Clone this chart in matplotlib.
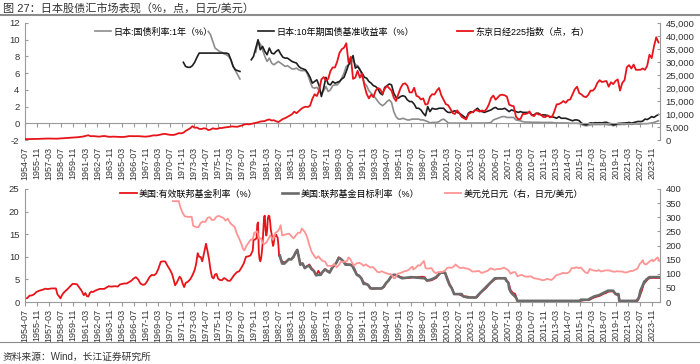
import numpy as np
import pandas as pd
import matplotlib
matplotlib.use("Agg")
import matplotlib.pyplot as plt
from matplotlib.lines import Line2D
from matplotlib.legend import Legend
from matplotlib.ticker import FuncFormatter

plt.rcParams['font.family'] = ['Liberation Sans', 'Noto Sans CJK SC', 'DejaVu Sans']
plt.rcParams['axes.unicode_minus'] = False

# monthly category axis
months = pd.period_range('1954-07', '2024-09', freq='M').strftime('%Y-%m').tolist()
tick_step = 16

# ---- Nikkei 225, quarterly (Jan/Apr/Jul/Oct) from 1954-07
nikkei_start = '1954-07'
nikkei = [
    340, 330,
    360, 370, 380, 420, 430, 480, 520, 540, 570, 560, 530, 480, 500, 560, 600, 650,
    700, 780, 850, 900, 950, 1050, 1150, 1250, 1400, 1600, 1820, 1450,
    1500, 1450, 1350, 1300, 1450, 1550, 1400, 1250, 1230, 1300, 1250, 1220,
    1180, 1150, 1200, 1350, 1500, 1480, 1450, 1460, 1480, 1420, 1380, 1300,
    1350, 1450, 1650, 1800, 1750, 1900, 2100, 2300, 2350, 2150, 2000, 1950,
    2000, 2300, 2650, 2550, 2800, 3500, 4000, 4500, 5300, 4700, 4800, 4300,
    4200, 4500, 4400, 3800, 4000, 4500, 4300, 4300, 4600, 4600, 4800, 4900,
    5000, 5200, 5200, 5100, 5100, 5400, 5600, 6000, 6100, 6000, 6200, 6400,
    6600, 6800, 7100, 7200, 7300, 7700, 7900, 7500, 7600, 7200, 6900, 7500,
    8100, 8400, 8900, 9400, 9900, 10900, 10300, 11100, 11900, 12500, 12800, 12700,
    13200, 15800, 17600, 16900, 19000, 23300, 24200, 23000, 23500, 26500, 27900, 27900,
    30200, 33500, 34900, 35500, 37200, 29800, 32000, 23500, 24000, 26600, 24000, 25500,
    21000, 17800, 16000, 17400, 16500, 19000, 20000, 19500, 17800, 19700, 20800, 19900,
    19000, 16300, 15000, 17600, 20000, 21500, 21800, 20900, 18300, 18300, 20100, 17000,
    16600, 15600, 16000, 13600, 13900, 16600, 17600, 17500, 19000, 20000, 17200, 15500,
    13800, 13400, 12000, 10400, 10000, 11400, 10300, 8900, 8400, 7900, 9900, 10500,
    10800, 11500, 11300, 10900, 11400, 11000, 11900, 13600, 16100, 17100, 15500, 16400,
    17300, 17400, 17200, 16700, 13600, 13200, 13000, 9000, 8000, 8100, 10000, 10000,
    10200, 11000, 9500, 9200, 10300, 9800, 9800, 8900, 8800, 9500, 8700, 8900,
    11100, 13700, 13800, 14300, 15000, 14300, 15400, 15600, 17600, 19500, 20500, 18000,
    17500, 16700, 16500, 17400, 19000, 19000, 20000, 22000, 23000, 22300, 22500, 22700,
    20500, 22200, 21500, 22700, 23300, 19000, 22000, 23000, 28000, 28800, 27500, 29000,
    27000, 27000, 27000, 27500, 27000, 28500, 32800, 31500, 36000, 39500, 37500,
]

# ---- Japan 10y JGB yield, quarterly; two segments
jgb10_a_start = '1972-01'
jgb10_a = [7.3, 6.8, 6.7, 6.7, 6.9, 7.3, 7.9, 8.4, 8.4, 8.4, 8.4, 8.4, 8.4, 8.4, 8.4, 8.4,
           8.4, 8.4, 8.4, 8.4, 8.3, 7.6, 6.8, 6.4, 6.3, 6.2]
jgb10_b_start = '1979-07'
jgb10_b = [
    7.6, 8.0,
    9.0, 10.0, 8.8, 9.2, 8.6, 8.2, 9.0, 8.4, 8.3, 8.6, 8.8, 8.3, 7.9, 7.8, 7.8, 7.6,
    7.4, 7.3, 7.2, 6.8, 6.6, 6.5, 6.4, 6.0, 5.5, 4.8, 5.0, 5.2, 4.5, 3.2, 4.2, 5.5,
    4.7, 4.6, 5.0, 4.8, 4.9, 5.0, 5.3, 5.5, 6.2, 7.0, 7.5, 8.1, 6.6, 6.8, 6.4, 6.0,
    5.5, 5.4, 5.0, 4.8, 4.5, 4.4, 4.1, 3.6, 3.4, 4.3, 4.5, 4.7, 4.6, 3.6, 3.1, 3.0,
    3.2, 3.3, 3.2, 2.8, 2.6, 2.6, 2.3, 1.8, 1.8, 1.6, 1.2, 0.9, 2.0, 1.4, 1.8, 1.7,
    1.7, 1.8, 1.8, 1.8, 1.5, 1.3, 1.3, 1.4, 1.5, 1.3, 1.2, 1.0, 0.8, 0.6, 1.2, 1.4,
    1.3, 1.6, 1.8, 1.5, 1.4, 1.3, 1.4, 1.5, 1.6, 1.8, 1.9, 1.7, 1.7, 1.7, 1.8, 1.6,
    1.4, 1.6, 1.5, 1.4, 1.3, 1.4, 1.3, 1.3, 1.3, 1.3, 1.0, 1.0, 1.2, 1.2, 1.0, 1.0,
    1.0, 0.9, 0.8, 0.8, 0.7, 0.6, 0.8, 0.6, 0.6, 0.6, 0.5, 0.4, 0.3, 0.4, 0.4, 0.3,
    0.0, -0.1, -0.2, -0.05, 0.05, 0.02, 0.07, 0.05, 0.07, 0.04, 0.1, 0.12,
    0.0, -0.05, -0.2, -0.15, -0.02, 0.0, 0.02, 0.03, 0.05, 0.1, 0.02, 0.08,
    0.15, 0.22, 0.2, 0.25, 0.5, 0.45, 0.6, 0.8, 0.7, 0.9, 1.05,
]

# ---- Japan 1y JGB yield, quarterly; two segments
jgb1_a_start = '1974-10'
jgb1_a = [11.0, 10.6, 9.8, 9.0, 8.8, 8.6, 8.5, 8.3, 8.2, 8.0, 7.6, 6.8, 6.3, 5.8, 5.3]
jgb1_b_start = '1980-01'
jgb1_b = [
    8.5, 9.8, 9.5, 8.8, 8.0, 7.4, 7.8, 7.2, 7.0, 7.2, 7.4, 7.2, 7.0, 6.8, 6.9, 6.7,
    6.5, 6.5, 6.6, 6.4, 6.3, 6.3, 6.3, 5.8, 5.0, 4.3, 4.2, 4.3, 3.9, 3.6, 3.9, 4.4,
    3.8, 4.0, 4.5, 4.6, 4.6, 4.9, 5.4, 6.0, 6.8, 7.0, 7.2, 7.6, 7.0, 6.9, 6.5, 5.6,
    4.8, 4.5, 3.9, 3.6, 3.3, 3.0, 2.6, 2.3, 2.1, 2.3, 2.6, 2.8, 2.5, 1.4, 0.8, 0.5,
    0.5, 0.6, 0.5, 0.4, 0.4, 0.5, 0.5, 0.5, 0.5, 0.4, 0.4, 0.3, 0.2, 0.05, 0.1, 0.1,
    0.1, 0.2, 0.4, 0.5, 0.3, 0.05, 0.02, 0.02, 0.03, 0.02, 0.02, 0.02, 0.03, 0.02, 0.02, 0.02,
    0.02, 0.03, 0.03, 0.02, 0.02, 0.03, 0.04, 0.05, 0.1, 0.4, 0.5, 0.6, 0.7, 0.8, 0.8, 0.7,
    0.7, 0.7, 0.7, 0.4, 0.35, 0.3, 0.2, 0.15, 0.15, 0.13, 0.12, 0.12, 0.13, 0.12, 0.1, 0.1,
    0.1, 0.1, 0.1, 0.1, 0.05, 0.05, 0.05, 0.05, 0.04, 0.04, 0.03, 0.0, 0.0, 0.0, 0.0, -0.02,
    -0.15, -0.25, -0.3, -0.25, -0.2, -0.15, -0.15, -0.15, -0.15, -0.13, -0.13, -0.15,
    -0.2, -0.2, -0.3, -0.2, -0.15, -0.15, -0.13, -0.14, -0.1, -0.1, -0.13, -0.1,
    -0.08, -0.1, -0.1, -0.05, -0.05, -0.05, 0.0, 0.05, 0.1, 0.2, 0.3,
]

# ---- US effective fed funds rate
effr_dates = [
    '1954-07', '1954-10', '1955-01', '1955-04', '1955-07', '1955-10', '1956-01', '1956-04', '1956-07', '1956-10',
    '1957-01', '1957-04', '1957-07', '1957-10', '1957-12', '1958-02', '1958-04', '1958-06', '1958-08', '1958-10',
    '1959-01', '1959-04', '1959-07', '1959-10', '1960-01', '1960-04', '1960-07', '1960-10', '1961-01', '1961-03',
    '1961-05', '1961-07', '1961-09', '1961-11', '1962-01', '1962-04', '1962-07', '1962-10', '1963-01', '1963-04',
    '1963-07', '1963-10', '1964-01', '1964-07', '1964-10', '1965-01', '1965-07', '1965-10', '1966-01', '1966-04',
    '1966-07', '1966-10', '1967-01', '1967-04', '1967-07', '1967-10', '1968-01', '1968-04', '1968-07', '1968-10',
    '1969-01', '1969-04', '1969-07', '1969-10', '1970-01', '1970-04', '1970-07', '1970-10', '1970-12', '1971-02',
    '1971-04', '1971-06', '1971-08', '1971-10', '1971-12', '1972-02', '1972-04', '1972-07', '1972-10', '1973-01',
    '1973-04', '1973-06', '1973-08', '1973-10', '1973-12', '1974-02', '1974-04', '1974-07', '1974-09', '1974-11',
    '1975-01', '1975-03', '1975-05', '1975-07', '1975-09', '1975-11', '1976-01', '1976-04', '1976-07', '1976-10',
    '1976-12', '1977-03', '1977-06', '1977-09', '1977-12', '1978-03', '1978-06', '1978-09', '1978-12', '1979-03',
    '1979-06', '1979-09', '1979-10', '1979-12', '1980-02', '1980-03', '1980-04', '1980-05', '1980-06', '1980-07',
    '1980-08', '1980-09', '1980-10', '1980-11', '1980-12', '1981-01', '1981-02', '1981-03', '1981-04', '1981-05',
    '1981-06', '1981-07', '1981-08', '1981-09', '1981-10', '1981-11', '1981-12', '1982-01', '1982-02', '1982-03',
    '1982-04', '1982-05', '1982-06', '1982-07', '1982-08', '1982-09', '1982-10', '1982-12', '1983-03', '1983-06',
    '1983-09', '1983-12', '1984-03', '1984-06', '1984-08', '1984-10', '1984-12', '1985-03', '1985-06', '1985-09',
    '1985-12', '1986-03', '1986-06', '1986-09', '1986-12', '1987-03', '1987-06', '1987-09', '1987-12', '1988-03',
    '1988-06', '1988-09', '1988-12', '1989-03', '1989-06', '1989-09', '1989-12', '1990-03', '1990-06', '1990-09',
    '1990-12', '1991-03', '1991-06', '1991-09', '1991-12', '1992-03', '1992-06', '1992-09', '1992-12', '1993-06',
    '1993-12', '1994-03', '1994-06', '1994-09', '1994-12', '1995-03', '1995-06', '1995-09', '1995-12', '1996-06',
    '1996-12', '1997-06', '1997-12', '1998-06', '1998-09', '1998-12', '1999-06', '1999-12', '2000-03', '2000-06',
    '2000-12', '2001-03', '2001-06', '2001-09', '2001-12', '2002-06', '2002-12', '2003-06', '2003-09', '2004-03',
    '2004-06', '2004-09', '2004-12', '2005-06', '2005-12', '2006-06', '2006-09', '2007-06', '2007-09', '2007-12',
    '2008-03', '2008-06', '2008-09', '2008-12', '2010-06', '2012-06', '2014-06', '2015-12', '2016-03', '2016-12',
    '2017-03', '2017-06', '2017-12', '2018-03', '2018-06', '2018-09', '2018-12', '2019-06', '2019-08', '2019-10',
    '2019-12', '2020-02', '2020-03', '2020-04', '2021-06', '2022-03', '2022-05', '2022-06', '2022-07', '2022-09',
    '2022-11', '2022-12', '2023-03', '2023-05', '2023-08', '2024-08',
]
effr_vals = [
    0.8, 0.85, 1.4, 1.45, 1.7, 2.2, 2.45, 2.6, 2.75, 2.95,
    2.85, 2.95, 3.0, 3.0, 3.0, 1.7, 1.3, 0.8, 1.5, 2.0,
    2.5, 2.95, 3.5, 4.0, 4.0, 3.9, 3.2, 2.5, 1.5, 2.0,
    1.3, 1.2, 2.0, 2.3, 2.2, 2.5, 2.7, 2.9, 2.9, 2.9,
    3.2, 3.5, 3.4, 3.5, 3.4, 3.9, 4.1, 4.1, 4.4, 4.7,
    5.2, 5.5, 5.0, 4.1, 3.8, 3.9, 4.6, 5.5, 6.0, 5.9,
    6.3, 7.4, 8.9, 9.0, 8.95, 8.0, 7.2, 6.2, 5.0, 3.7,
    4.2, 4.9, 5.6, 5.2, 4.1, 3.3, 4.2, 4.5, 5.0, 5.9,
    7.1, 8.5, 10.8, 10.0, 9.95, 9.0, 10.5, 12.9, 11.3, 9.5,
    7.1, 5.5, 5.2, 6.1, 6.2, 5.2, 4.9, 4.8, 5.3, 5.0,
    4.7, 4.7, 5.4, 6.1, 6.6, 6.8, 7.6, 8.5, 10.0, 10.1,
    10.3, 11.4, 13.8, 13.8, 14.1, 17.2, 17.6, 11.0, 9.5, 9.0,
    9.6, 10.9, 12.8, 15.9, 18.9, 19.1, 15.9, 14.7, 15.7, 18.5,
    19.1, 19.0, 17.8, 15.9, 15.1, 13.3, 12.4, 13.2, 14.8, 14.7,
    14.9, 14.5, 14.2, 12.6, 10.1, 10.3, 9.7, 8.9, 8.8, 9.0,
    9.5, 9.5, 9.9, 11.0, 11.6, 10.0, 8.4, 8.6, 7.5, 7.9,
    8.3, 7.5, 6.9, 5.9, 6.9, 6.1, 6.7, 7.2, 6.9, 6.6,
    7.5, 8.2, 8.8, 9.9, 9.5, 9.0, 8.5, 8.3, 8.3, 8.2,
    7.3, 6.1, 5.9, 5.2, 4.4, 4.0, 3.8, 3.2, 2.9, 3.0,
    3.0, 3.3, 4.2, 4.7, 5.5, 6.0, 6.0, 5.8, 5.6, 5.3,
    5.3, 5.5, 5.5, 5.6, 5.5, 4.7, 4.8, 5.3, 5.85, 6.5,
    6.4, 5.3, 4.0, 3.1, 1.8, 1.75, 1.25, 1.2, 1.0, 1.0,
    1.0, 1.6, 2.2, 3.0, 4.2, 5.0, 5.25, 5.25, 5.0, 4.25,
    2.6, 2.0, 1.8, 0.16, 0.18, 0.16, 0.09, 0.24, 0.36, 0.54,
    0.79, 1.04, 1.3, 1.51, 1.82, 1.95, 2.27, 2.38, 2.13, 1.83,
    1.55, 1.58, 0.65, 0.05, 0.08, 0.2, 0.77, 1.21, 1.68, 2.56,
    3.78, 4.1, 4.65, 5.06, 5.33, 5.33,
]

# ---- US fed funds target rate (from 1982-09)
fftr_dates = [
    '1982-09', '1982-10', '1982-12', '1983-03', '1983-06', '1983-09', '1983-12', '1984-03', '1984-06', '1984-08',
    '1984-10', '1984-12', '1985-03', '1985-06', '1985-09', '1985-12', '1986-03', '1986-06', '1986-09', '1986-12',
    '1987-03', '1987-06', '1987-09', '1987-12', '1988-03', '1988-06', '1988-09', '1988-12', '1989-03', '1989-06',
    '1989-09', '1989-12', '1990-06', '1990-09', '1990-12', '1991-03', '1991-06', '1991-09', '1991-12', '1992-03',
    '1992-06', '1992-09', '1993-12', '1994-03', '1994-06', '1994-09', '1994-12', '1995-03', '1995-06', '1995-09',
    '1995-12', '1996-03', '1997-03', '1998-09', '1998-12', '1999-06', '1999-12', '2000-03', '2000-06', '2000-12',
    '2001-03', '2001-06', '2001-09', '2001-12', '2002-10', '2002-12', '2003-06', '2004-05', '2004-09', '2004-12',
    '2005-06', '2005-12', '2006-06', '2007-08', '2007-09', '2007-12', '2008-01', '2008-03', '2008-04', '2008-10',
    '2008-12', '2015-11', '2015-12', '2016-11', '2016-12', '2017-03', '2017-06', '2017-12', '2018-03', '2018-06',
    '2018-09', '2018-12', '2019-07', '2019-08', '2019-09', '2019-10', '2020-02', '2020-03', '2022-02', '2022-03',
    '2022-05', '2022-06', '2022-07', '2022-09', '2022-11', '2022-12', '2023-02', '2023-03', '2023-05', '2023-07',
    '2024-08',
]
fftr_vals = [
    10.25, 9.5, 8.5, 8.5, 9.0, 9.5, 9.4, 10.0, 11.0, 11.5,
    10.0, 8.25, 8.5, 7.5, 7.9, 8.0, 7.25, 6.9, 5.9, 6.0,
    6.0, 6.75, 7.25, 6.8, 6.5, 7.5, 8.1, 8.7, 9.75, 9.5,
    9.0, 8.25, 8.25, 8.0, 7.0, 6.0, 5.75, 5.25, 4.0, 4.0,
    3.75, 3.0, 3.0, 3.5, 4.25, 4.75, 5.5, 6.0, 6.0, 5.75,
    5.5, 5.25, 5.5, 5.25, 4.75, 5.0, 5.5, 6.0, 6.5, 6.5,
    5.0, 3.75, 3.0, 1.75, 1.75, 1.25, 1.0, 1.0, 1.75, 2.25,
    3.25, 4.25, 5.25, 5.25, 4.75, 4.25, 3.0, 2.25, 2.0, 1.0,
    0.25, 0.25, 0.5, 0.5, 0.75, 1.0, 1.25, 1.5, 1.75, 2.0,
    2.25, 2.5, 2.5, 2.25, 2.0, 1.75, 1.75, 0.25, 0.25, 0.5,
    1.0, 1.75, 2.5, 3.25, 4.0, 4.5, 4.75, 5.0, 5.25, 5.5,
    5.5,
]

# ---- USD/JPY (right axis)
usdjpy_dates = [
    '1970-11', '1971-07', '1971-09', '1971-12', '1972-03', '1972-06', '1972-09', '1972-12', '1973-02', '1973-06',
    '1973-09', '1973-12', '1974-03', '1974-06', '1974-09', '1974-12', '1975-03', '1975-06', '1975-09', '1975-12',
    '1976-03', '1976-06', '1976-09', '1976-12', '1977-03', '1977-06', '1977-09', '1977-12', '1978-03', '1978-06',
    '1978-08', '1978-10', '1978-12', '1979-03', '1979-06', '1979-09', '1979-11', '1980-03', '1980-05', '1980-08',
    '1980-10', '1980-12', '1981-03', '1981-06', '1981-08', '1981-12', '1982-03', '1982-06', '1982-08', '1982-10',
    '1982-12', '1983-03', '1983-06', '1983-09', '1983-12', '1984-03', '1984-06', '1984-09', '1984-12', '1985-02',
    '1985-06', '1985-09', '1985-12', '1986-03', '1986-06', '1986-09', '1986-12', '1987-03', '1987-06', '1987-09',
    '1987-12', '1988-03', '1988-06', '1988-09', '1988-12', '1989-03', '1989-06', '1989-09', '1989-12', '1990-02',
    '1990-04', '1990-06', '1990-09', '1990-11', '1991-03', '1991-06', '1991-09', '1991-12', '1992-03', '1992-06',
    '1992-09', '1992-12', '1993-03', '1993-06', '1993-09', '1993-12', '1994-03', '1994-06', '1994-09', '1994-12',
    '1995-03', '1995-04', '1995-06', '1995-09', '1995-12', '1996-03', '1996-06', '1996-09', '1996-12', '1997-03',
    '1997-05', '1997-06', '1997-09', '1997-12', '1998-03', '1998-06', '1998-08', '1998-10', '1998-12', '1999-03',
    '1999-06', '1999-09', '1999-12', '2000-03', '2000-06', '2000-09', '2000-12', '2001-03', '2001-06', '2001-09',
    '2001-12', '2002-02', '2002-06', '2002-09', '2002-12', '2003-03', '2003-06', '2003-09', '2003-12', '2004-03',
    '2004-06', '2004-09', '2004-12', '2005-03', '2005-06', '2005-09', '2005-12', '2006-03', '2006-06', '2006-09',
    '2006-12', '2007-03', '2007-06', '2007-09', '2007-12', '2008-03', '2008-06', '2008-09', '2008-12', '2009-03',
    '2009-06', '2009-09', '2009-12', '2010-03', '2010-06', '2010-09', '2010-12', '2011-03', '2011-06', '2011-09',
    '2011-12', '2012-03', '2012-06', '2012-09', '2012-12', '2013-03', '2013-06', '2013-09', '2013-12', '2014-03',
    '2014-06', '2014-09', '2014-12', '2015-03', '2015-06', '2015-09', '2015-12', '2016-03', '2016-06', '2016-09',
    '2016-12', '2017-03', '2017-06', '2017-09', '2017-12', '2018-03', '2018-06', '2018-09', '2018-12', '2019-03',
    '2019-06', '2019-09', '2019-12', '2020-03', '2020-06', '2020-09', '2020-12', '2021-03', '2021-06', '2021-09',
    '2021-12', '2022-03', '2022-06', '2022-09', '2022-10', '2022-12', '2023-03', '2023-06', '2023-09', '2023-11',
    '2023-12', '2024-03', '2024-04', '2024-06', '2024-08',
]
usdjpy_vals = [
    357, 357, 335, 315, 303, 302, 301, 302, 270, 265,
    265, 280, 285, 283, 298, 300, 290, 292, 302, 305,
    301, 298, 288, 295, 280, 272, 266, 240, 225, 205,
    188, 183, 196, 208, 220, 222, 245, 250, 225, 225,
    210, 205, 210, 225, 235, 220, 245, 250, 258, 272,
    235, 238, 240, 242, 234, 225, 235, 245, 245, 260,
    248, 230, 202, 178, 165, 154, 162, 152, 145, 143,
    128, 128, 127, 135, 123, 130, 143, 142, 143, 145,
    158, 153, 138, 129, 137, 139, 135, 128, 133, 127,
    122, 124, 117, 107, 105, 109, 105, 102, 99, 99,
    90, 84, 85, 100, 102, 105, 109, 110, 114, 122,
    125, 115, 121, 130, 129, 140, 145, 121, 118, 119,
    120, 107, 102, 106, 106, 107, 112, 121, 122, 121,
    127, 133, 123, 120, 122, 119, 118, 114, 108, 108,
    109, 110, 103, 105, 108, 111, 119, 117, 114, 117,
    117, 118, 122, 117, 112, 100, 105, 106, 91, 94,
    96, 91, 90, 90, 91, 85, 83, 82, 80, 77,
    78, 82, 80, 78, 84, 94, 97, 99, 103, 102,
    102, 107, 120, 120, 123, 120, 122, 113, 105, 102,
    117, 113, 111, 110, 113, 108, 110, 112, 112, 111,
    108, 107, 109, 108, 108, 106, 104, 107, 110, 110,
    114, 118, 134, 143, 148, 135, 133, 141, 147, 150,
    144, 150, 154, 158, 146,
]

top_labels = ['日本:国债利率:1年（%）', '日本:10年期国债基准收益率（%）', '东京日经225指数（点，右）']
bottom_labels = ['美国:有效联邦基金利率（%）', '美国:联邦基金目标利率（%）', '美元兑日元（右，日元/美元）']


def pos(d):
    return months.index(d)


def qpos(start, n):
    return [pos(start) + 3 * i for i in range(n)]


RED = '#E8141B'
BLACK = '#1E1E1E'
GRAY = '#8C8C8C'
DGRAY = '#6B6B6B'
PINK = '#FF9494'
AXC = '#9A9A9A'
TXT = '#333333'

fig = plt.figure(figsize=(7, 3.64), dpi=100)
W, H = 700.0, 364.0
ax1 = fig.add_axes([25 / W, 1 - 140 / H, 635 / W, 117 / H])
ax1r = ax1.twinx()
ax2 = fig.add_axes([25 / W, 1 - 302 / H, 635 / W, 113 / H])
ax2r = ax2.twinx()

# x axis of the top panel crosses at 0 (set before tick labels: it resets ticks)
ax1.spines['bottom'].set_position(('data', 0))

# top panel
l1, = ax1.plot(qpos(jgb1_a_start, len(jgb1_a)), jgb1_a, color=GRAY, lw=1.2)
ax1.plot(qpos(jgb1_b_start, len(jgb1_b)), jgb1_b, color=GRAY, lw=1.2)
l2, = ax1.plot(qpos(jgb10_a_start, len(jgb10_a)), jgb10_a, color=BLACK, lw=1.2)
ax1.plot(qpos(jgb10_b_start, len(jgb10_b)), jgb10_b, color=BLACK, lw=1.2)
l3, = ax1r.plot(qpos(nikkei_start, len(nikkei)), nikkei, color=RED, lw=1.3)

ax1.set_ylim(-2, 12)
ax1.set_yticks(range(-2, 13, 2))
ax1r.set_ylim(0, 45000)
ax1r.set_yticks(range(0, 45001, 5000))
ax1r.yaxis.set_major_formatter(FuncFormatter(lambda v, p: f'{int(v):,}'))

# bottom panel
b1, = ax2.plot([pos(d) for d in effr_dates], effr_vals, color=RED, lw=1.3)
b2, = ax2.plot([pos(d) for d in fftr_dates], fftr_vals, color=DGRAY, lw=1.9)
b3, = ax2r.plot([pos(d) for d in usdjpy_dates], usdjpy_vals, color=PINK, lw=1.3)
ax2.set_ylim(0, 25)
ax2.set_yticks(range(0, 26, 5))
ax2r.set_ylim(0, 400)
ax2r.set_yticks(range(0, 401, 50))

ticks = list(range(0, len(months), tick_step))
for ax, axr in ((ax1, ax1r), (ax2, ax2r)):
    ax.set_xlim(0, len(months) - 1)
    ax.set_xticks(ticks)
    ax.set_xticklabels([months[i] for i in ticks], rotation=90, fontsize=6.5, color=TXT)
    ax.tick_params(axis='x', direction='out', length=3, color=AXC)
    ax.tick_params(axis='y', direction='in', length=2.5, color=AXC, labelsize=6.8, labelcolor=TXT, pad=4)
    axr.tick_params(axis='y', direction='in', length=2.5, color=AXC, labelsize=6.8, labelcolor=TXT, pad=4)
    ax.spines['top'].set_visible(False)
    ax.spines['right'].set_visible(False)
    axr.spines['top'].set_visible(False)
    axr.spines['bottom'].set_visible(False)
    axr.spines['left'].set_visible(False)
    for s in ('left', 'bottom'):
        ax.spines[s].set_color(AXC)
    axr.spines['right'].set_color(AXC)
    ax.patch.set_visible(False)

ax1.tick_params(axis='x', pad=14)
ax2.tick_params(axis='x', pad=2)


# one legend box per item, placed where the reference puts each
def put_legends(ax, handles, labels, xs, y):
    for h, lab, x in zip(handles, labels, xs):
        lg = Legend(ax, [h], [lab], loc='center left', bbox_to_anchor=(x, y), frameon=False, fontsize=6.5,
                    handlelength=1.8, handletextpad=0.25, borderaxespad=0, borderpad=0)
        ax.add_artist(lg)


put_legends(ax1r, [l1, l2, l3], top_labels, [0.110, 0.367, 0.680], 0.923)
put_legends(ax2r, [b1, b2, b3], bottom_labels, [0.150, 0.405, 0.661], 0.956)

# title, rules, source
fig.text(3 / W, 1 - 8 / H, '图 27：日本股债汇市场表现（%，点，日元/美元）', fontsize=8, color=TXT, va='center')
fig.add_artist(Line2D([0, 1], [1 - 15 / H] * 2, color='#8C8C8C', lw=1.5))
fig.add_artist(Line2D([0, 1], [1 - 342 / H] * 2, color='#8C8C8C', lw=0.8))
fig.text(3 / W, 1 - 357 / H, '资料来源：Wind，长江证券研究所', fontsize=7, color=TXT, va='center')

fig.savefig('out.png', dpi=100)
